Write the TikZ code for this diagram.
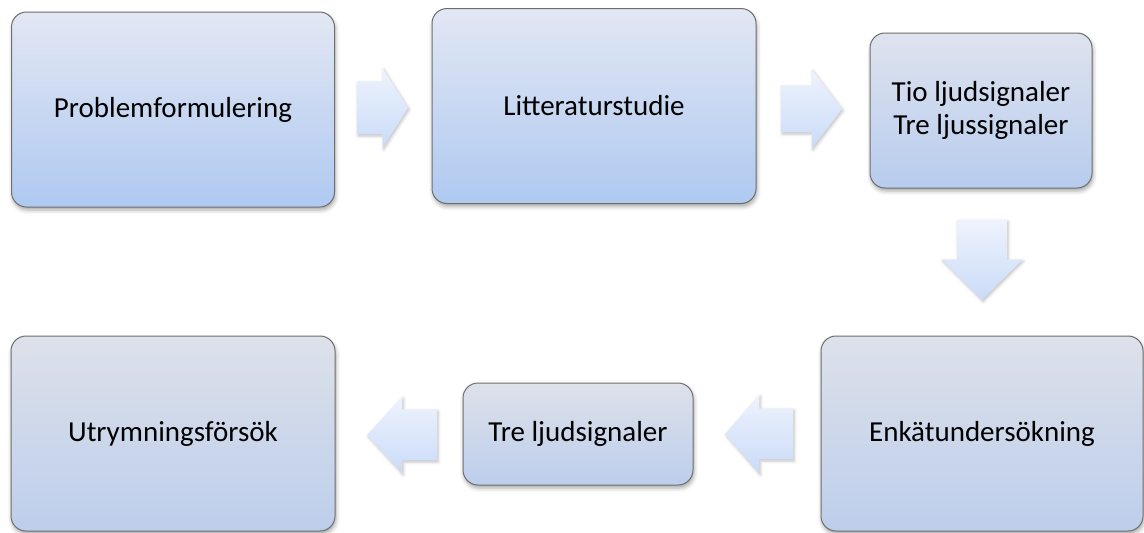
\documentclass[tikz,border=0pt]{standalone}
\usepackage{fontspec}
\setmainfont{Carlito}
\usetikzlibrary{shapes.arrows,shadows.blur}
\pgfdeclarelayer{bg}
\pgfsetlayers{bg,main}
\definecolor{boxline}{HTML}{6E6E6E}
\definecolor{bluetop}{HTML}{E2E7F3}
\definecolor{bluebot}{HTML}{AFC9F1}
\definecolor{midtop}{HTML}{DEE3EE}
\definecolor{midbot}{HTML}{B8CCEE}
\definecolor{greytop}{HTML}{DDE1EA}
\definecolor{greybot}{HTML}{BDCEEB}
\definecolor{arrtop}{HTML}{EEF3FD}
\definecolor{arrbot}{HTML}{CADBF8}
\tikzset{
    every node/.style={inner sep=0mm, outer sep=0mm, font=\fontsize{14.5}{16.5}\selectfont}
}
\tikzset{
    stage/.style={rectangle, rounded corners=7.5pt, draw=boxline, line width=.5pt, align=center,
        blur shadow={shadow xshift=.5pt, shadow yshift=-1.5pt, shadow blur radius=2pt, shadow opacity=35}},
    bluebox/.style={top color=bluetop, bottom color=bluebot},
    midbox/.style={top color=midtop, bottom color=midbot},
    greybox/.style={top color=greytop, bottom color=greybot},
    blockarrow/.style={single arrow, anchor=tip, draw=none, top color=arrtop, bottom color=arrbot,
        blur shadow={shadow xshift=.6pt, shadow yshift=-.8pt, shadow blur radius=1.5pt, shadow opacity=25}}
}
\begin{document}
\begin{tikzpicture}[x=0.5pt, y=-0.5pt]
        \useasboundingbox (0,0) rectangle (1144,532);
        \node (s0) [stage, bluebox, minimum width=161.5pt, minimum height=97.5pt] at (173, 109.5) {Problemformulering};
        \node (s1) [stage, bluebox, minimum width=162pt, minimum height=97.5pt] at (594, 106) {Litteraturstudie};
        \node (s2) [stage, midbox, minimum width=111pt, minimum height=77.5pt] at (981, 110.5) {Tio ljudsignaler\\Tre ljussignaler};
        \node (s3) [stage, greybox, minimum width=161pt, minimum height=97.5pt] at (982, 433.5) {Enkätundersökning};
        \node (s4) [stage, greybox, minimum width=115pt, minimum height=51pt] at (578, 434) {Tre ljudsignaler};
        \node (s5) [stage, greybox, minimum width=162pt, minimum height=97.5pt] at (173, 433.5) {Utrymningsförsök};
        \begin{pgfonlayer}{bg}
                \node (a0) [blockarrow, minimum height=25.5pt, minimum width=39.5pt, inner ysep=13pt,
                        single arrow head extend=6.75pt, single arrow tip angle=115] at (408, 108) {};
                \node (a1) [blockarrow, minimum height=30.5pt, minimum width=39pt, inner ysep=11.5pt,
                        single arrow head extend=8pt, single arrow tip angle=105] at (842, 109) {};
                \node (a2) [blockarrow, shape border rotate=270, minimum height=40pt, minimum width=40pt, inner xsep=12.25pt,
                        single arrow head extend=7.75pt, single arrow tip angle=90] at (982, 300) {};
                \node (a3) [blockarrow, shape border rotate=180, minimum height=34pt, minimum width=39pt, inner ysep=12.5pt,
                        single arrow head extend=7pt, single arrow tip angle=98] at (725, 434) {};
                \node (a4) [blockarrow, shape border rotate=180, minimum height=35pt, minimum width=38pt, inner ysep=12.5pt,
                        single arrow head extend=6.5pt, single arrow tip angle=95] at (367, 435) {};
        \end{pgfonlayer}
\end{tikzpicture}
\end{document}
